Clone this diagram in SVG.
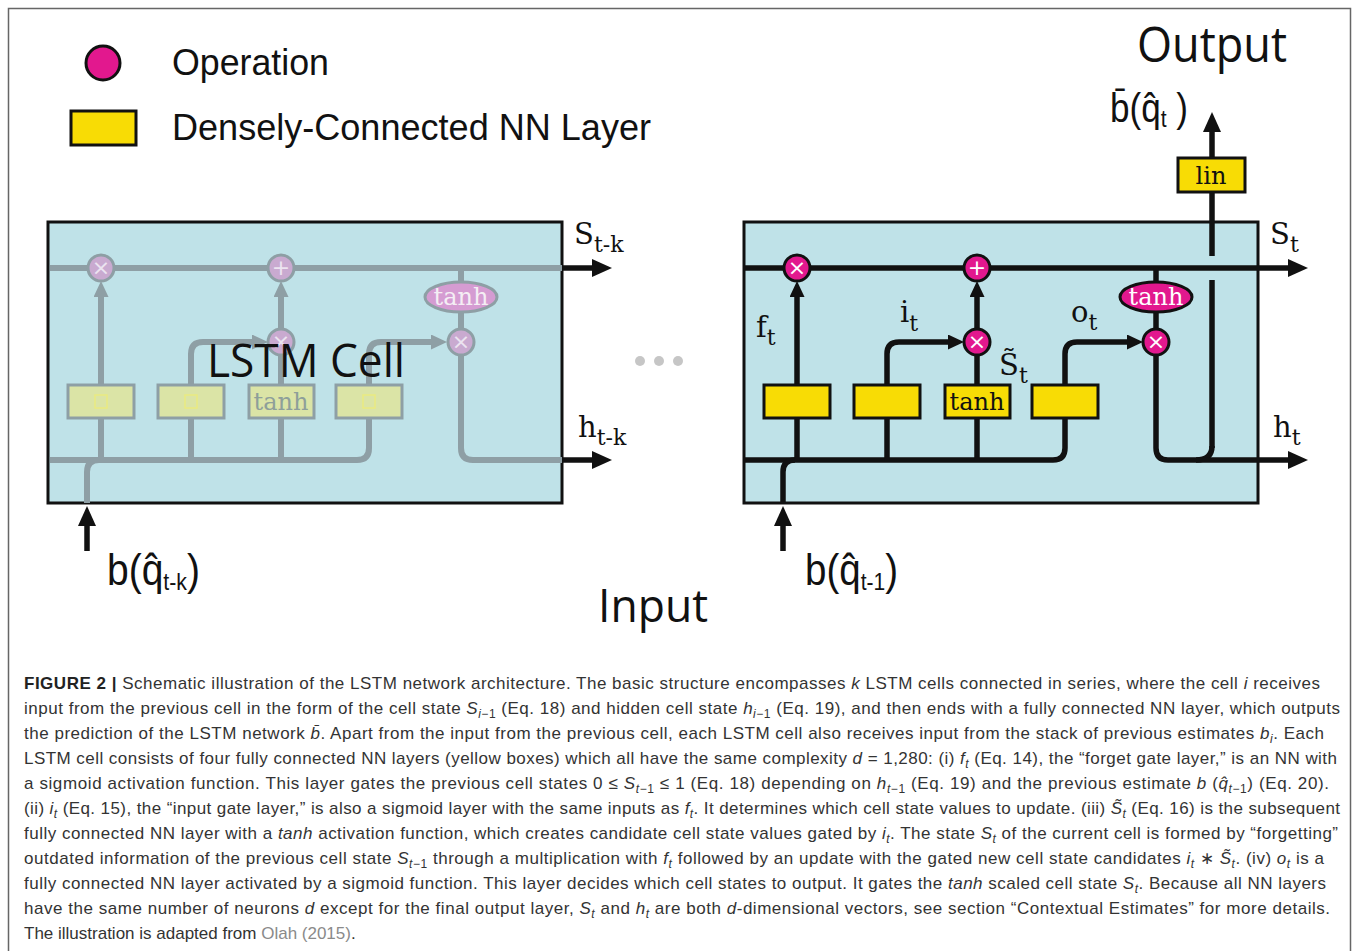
<svg xmlns="http://www.w3.org/2000/svg" width="1358" height="951" viewBox="0 0 1358 951">
<defs>
<style>
.cellbg{fill:#bfe2e8;stroke:#111;stroke-width:3}
.dk{fill:none;stroke:#111;stroke-width:5.5;stroke-linejoin:round}
.gy{fill:none;stroke:#8e9fa5;stroke-width:6;stroke-linejoin:round}
.op{fill:#e2188e;stroke:#111;stroke-width:3}
.opf{fill:#c9aad0;stroke:#8e9fa5;stroke-width:3}
.nn{fill:#f8dc05;stroke:#111;stroke-width:3}
.nnf{fill:#dbe4a6;stroke:#8e9fa5;stroke-width:3}
.sym{font-family:"DejaVu Sans",sans-serif;font-size:22px;fill:#fff;text-anchor:middle}
.symf{font-family:"DejaVu Sans",sans-serif;font-size:22px;fill:#ece4f0;text-anchor:middle}
.ser{font-family:"DejaVu Serif","Liberation Serif",serif;font-size:29px;fill:#111}
.lay{font-family:"DejaVu Serif","Liberation Serif",serif;font-size:24px;text-anchor:middle}
.big{font-family:"Open Sans","Noto Sans",sans-serif;fill:#111}
.leg{font-family:"Liberation Sans",Arial,sans-serif;font-size:36px;fill:#111}
.bq{font-family:"Liberation Sans",Arial,sans-serif;fill:#111}
.cap{font-family:"Liberation Sans",Arial,sans-serif;font-size:17px;fill:#333}
.sb{font-size:12px;baseline-shift:-4px}
</style>
<marker id="ah" viewBox="0 0 20 18" refX="4" refY="9" markerWidth="20" markerHeight="18" markerUnits="userSpaceOnUse" orient="auto"><path d="M0,0 L20,9 L0,18 z" fill="#111"/></marker>
<marker id="ahs" viewBox="0 0 16 15" refX="3" refY="7.5" markerWidth="16" markerHeight="15" markerUnits="userSpaceOnUse" orient="auto"><path d="M0,0 L16,7.5 L0,15 z" fill="#111"/></marker>
<marker id="ahg" viewBox="0 0 16 15" refX="3" refY="7.5" markerWidth="16" markerHeight="15" markerUnits="userSpaceOnUse" orient="auto"><path d="M0,0 L16,7.5 L0,15 z" fill="#8e9fa5"/></marker>
</defs>
<rect x="0" y="0" width="1358" height="951" fill="#fff"/>
<rect x="8.5" y="8.5" width="1342" height="960" fill="none" stroke="#666" stroke-width="1.5"/>

<!-- legend -->
<g id="legend">
<circle class="op" cx="103" cy="63" r="17"/>
<text class="leg" x="172" y="75" textLength="157" lengthAdjust="spacingAndGlyphs">Operation</text>
<rect class="nn" x="71" y="111" width="65" height="34"/>
<text class="leg" x="172" y="140" textLength="479" lengthAdjust="spacingAndGlyphs">Densely-Connected NN Layer</text>
</g>

<!-- cell backgrounds -->
<g id="cell-left">
<rect class="cellbg" x="48" y="222" width="514" height="281"/>
</g>
<g id="cell-right">
<rect class="cellbg" x="744" y="222" width="514" height="281"/>
</g>

<g id="connectors">
<!-- left (faded) cell -->
<path class="gy" d="M50 268 H562"/>
<path class="gy" d="M50 460 H357 Q369 460 369 448 V418"/>
<path class="gy" d="M87 503 V472 Q87 460 99 460"/>
<path class="gy" d="M101 460 V418"/>
<path class="gy" d="M101 385 V294" marker-end="url(#ahg)"/>
<path class="gy" d="M191 460 V418"/>
<path class="gy" d="M191 385 V354 Q191 342 203 342 H255" marker-end="url(#ahg)"/>
<path class="gy" d="M281 460 V418"/>
<path class="gy" d="M281 385 V355"/>
<path class="gy" d="M281 329 V294" marker-end="url(#ahg)"/>
<path class="gy" d="M369 385 V354 Q369 342 381 342 H434" marker-end="url(#ahg)"/>
<path class="gy" d="M461 268 V282"/>
<path class="gy" d="M461 312 V329"/>
<path class="gy" d="M461 355 V448 Q461 460 473 460 H562"/>
<path class="dk" d="M562 268 H596" marker-end="url(#ah)"/>
<path class="dk" d="M562 460 H596" marker-end="url(#ah)"/>
<path class="dk" d="M87 551 V522" marker-end="url(#ah)"/>
<!-- right cell -->
<path class="dk" d="M1212 448 V280"/>
<path class="dk" d="M1212 256 V128" marker-end="url(#ah)"/>
<path class="dk" d="M1196 460 Q1212 460 1212 446"/>
<path class="dk" d="M745 268 H1292" marker-end="url(#ah)"/>
<path class="dk" d="M745 460 H1053 Q1065 460 1065 448 V418"/>
<path class="dk" d="M783 503 V472 Q783 460 795 460"/>
<path class="dk" d="M797 460 V418"/>
<path class="dk" d="M797 385 V294" marker-end="url(#ahs)"/>
<path class="dk" d="M887 460 V418"/>
<path class="dk" d="M887 385 V354 Q887 342 899 342 H951" marker-end="url(#ahs)"/>
<path class="dk" d="M977 460 V418"/>
<path class="dk" d="M977 385 V355"/>
<path class="dk" d="M977 329 V294" marker-end="url(#ahs)"/>
<path class="dk" d="M1065 385 V354 Q1065 342 1077 342 H1130" marker-end="url(#ahs)"/>
<path class="dk" d="M1156 268 V282"/>
<path class="dk" d="M1156 312 V329"/>
<path class="dk" d="M1156 355 V448 Q1156 460 1168 460 H1292" marker-end="url(#ah)"/>
<path class="dk" d="M783 551 V522" marker-end="url(#ah)"/>
</g>

<!-- left cell nodes -->
<g id="l-mul-f"><circle class="opf" cx="101" cy="268" r="13"/><text class="symf" x="101" y="275">×</text></g>
<g id="l-add"><circle class="opf" cx="281" cy="268" r="13"/><text class="symf" x="281" y="275">+</text></g>
<g id="l-mul-i"><circle class="opf" cx="281" cy="342" r="13"/><text class="symf" x="281" y="349">×</text></g>
<g id="l-mul-o"><circle class="opf" cx="461" cy="342" r="13"/><text class="symf" x="461" y="349">×</text></g>
<g id="l-tanh-op"><ellipse cx="461" cy="297" rx="36" ry="15" fill="#d59cd2" stroke="#8e9fa5" stroke-width="3"/><text class="lay" x="461" y="305" fill="#f4eef4">tanh</text></g>
<g id="l-nn-f"><rect class="nnf" x="68" y="385" width="66" height="33"/><rect x="95" y="395" width="12" height="13" fill="none" stroke="#eaea80" stroke-width="1.5"/></g>
<g id="l-nn-i"><rect class="nnf" x="158" y="385" width="66" height="33"/><rect x="185" y="395" width="12" height="13" fill="none" stroke="#eaea80" stroke-width="1.5"/></g>
<g id="l-nn-tanh"><rect class="nnf" x="249" y="385" width="65" height="33"/><text class="lay" x="281" y="410" fill="#8e9f9a">tanh</text></g>
<g id="l-nn-o"><rect class="nnf" x="336" y="385" width="66" height="33"/><rect x="363" y="395" width="12" height="13" fill="none" stroke="#eaea80" stroke-width="1.5"/></g>
<g id="l-label"><text class="big" x="207" y="377" font-size="46" textLength="198" lengthAdjust="spacingAndGlyphs">LSTM Cell</text></g>

<!-- right cell nodes -->
<g id="r-mul-f"><circle class="op" cx="797" cy="268" r="13"/><text class="sym" x="797" y="275">×</text></g>
<g id="r-add"><circle class="op" cx="977" cy="268" r="13"/><text class="sym" x="977" y="275">+</text></g>
<g id="r-mul-i"><circle class="op" cx="977" cy="342" r="13"/><text class="sym" x="977" y="349">×</text></g>
<g id="r-mul-o"><circle class="op" cx="1156" cy="342" r="13"/><text class="sym" x="1156" y="349">×</text></g>
<g id="r-tanh-op"><ellipse class="op" cx="1156" cy="297" rx="36" ry="15"/><text class="lay" x="1156" y="305" fill="#fff">tanh</text></g>
<g id="r-nn-f"><rect class="nn" x="764" y="385" width="66" height="33"/></g>
<g id="r-nn-i"><rect class="nn" x="854" y="385" width="66" height="33"/></g>
<g id="r-nn-tanh"><rect class="nn" x="945" y="385" width="65" height="33"/><text class="lay" x="977" y="410" fill="#111">tanh</text></g>
<g id="r-nn-o"><rect class="nn" x="1032" y="385" width="66" height="33"/></g>
<g id="r-nn-lin"><rect class="nn" x="1178" y="158" width="67" height="34"/><text class="lay" x="1211" y="184" fill="#111">lin</text></g>

<!-- labels -->
<g id="labels">
<text class="ser" x="574" y="244">S<tspan font-size="22" dy="8">t-k</tspan></text>
<text class="ser" x="578" y="437">h<tspan font-size="22" dy="8">t-k</tspan></text>
<text class="ser" x="1270" y="244">S<tspan font-size="22" dy="8">t</tspan></text>
<text class="ser" x="1273" y="437">h<tspan font-size="22" dy="8">t</tspan></text>
<text class="ser" x="756" y="337">f<tspan font-size="22" dy="8">t</tspan></text>
<text class="ser" x="900" y="322">i<tspan font-size="22" dy="9">t</tspan></text>
<text class="ser" x="1071" y="322">o<tspan font-size="22" dy="8">t</tspan></text>
<text class="ser" x="999" y="375">S̃<tspan font-size="22" dy="8">t</tspan></text>
<text class="big" x="1137" y="62" font-size="50" textLength="150" lengthAdjust="spacingAndGlyphs">Output</text>
<text class="big" x="598" y="622" font-size="45" textLength="110" lengthAdjust="spacingAndGlyphs">Input</text>
<text class="bq" x="1110" y="122" font-size="40" textLength="78" lengthAdjust="spacingAndGlyphs">b̄(q̂<tspan font-size="24" dy="5">t</tspan><tspan dy="-5"> )</tspan></text>
<text class="bq" x="107" y="585" font-size="44" textLength="93" lengthAdjust="spacingAndGlyphs">b(q̂<tspan font-size="24" dy="5">t-k</tspan><tspan dy="-5">)</tspan></text>
<text class="bq" x="805" y="585" font-size="44" textLength="93" lengthAdjust="spacingAndGlyphs">b(q̂<tspan font-size="24" dy="5">t-1</tspan><tspan dy="-5">)</tspan></text>
<circle cx="640" cy="361" r="5" fill="#c6c6c6"/>
<circle cx="659" cy="361" r="5" fill="#c6c6c6"/>
<circle cx="678" cy="361" r="5" fill="#c6c6c6"/>
</g>

<!-- caption -->
<g id="caption">
<text class="cap" x="24" y="689" textLength="1296" lengthAdjust="spacing"><tspan font-weight="bold" fill="#222">FIGURE 2 |</tspan> Schematic illustration of the LSTM network architecture. The basic structure encompasses <tspan font-style="italic">k</tspan> LSTM cells connected in series, where the cell <tspan font-style="italic">i</tspan> receives</text>
<text class="cap" x="24" y="714" textLength="1316" lengthAdjust="spacing">input from the previous cell in the form of the cell state <tspan font-style="italic">S</tspan><tspan class="sb"><tspan font-style="italic">i</tspan>−1</tspan> (Eq. 18) and hidden cell state <tspan font-style="italic">h</tspan><tspan class="sb"><tspan font-style="italic">i</tspan>−1</tspan> (Eq. 19), and then ends with a fully connected NN layer, which outputs</text>
<text class="cap" x="24" y="739" textLength="1300" lengthAdjust="spacing">the prediction of the LSTM network <tspan font-style="italic">b̄</tspan>. Apart from the input from the previous cell, each LSTM cell also receives input from the stack of previous estimates <tspan font-style="italic">b</tspan><tspan class="sb" font-style="italic">i</tspan>. Each</text>
<text class="cap" x="24" y="764" textLength="1313" lengthAdjust="spacing">LSTM cell consists of four fully connected NN layers (yellow boxes) which all have the same complexity <tspan font-style="italic">d</tspan> = 1,280: (i) <tspan font-style="italic">f</tspan><tspan class="sb" font-style="italic">t</tspan> (Eq. 14), the “forget gate layer,” is an NN with</text>
<text class="cap" x="24" y="789" textLength="1305" lengthAdjust="spacing">a sigmoid activation function. This layer gates the previous cell states 0 ≤ <tspan font-style="italic">S</tspan><tspan class="sb"><tspan font-style="italic">t</tspan>−1</tspan> ≤ 1 (Eq. 18) depending on <tspan font-style="italic">h</tspan><tspan class="sb"><tspan font-style="italic">t</tspan>−1</tspan> (Eq. 19) and the previous estimate <tspan font-style="italic">b</tspan> (<tspan font-style="italic">q̂</tspan><tspan class="sb"><tspan font-style="italic">t</tspan>−1</tspan>) (Eq. 20).</text>
<text class="cap" x="24" y="814" textLength="1316" lengthAdjust="spacing">(ii) <tspan font-style="italic">i</tspan><tspan class="sb" font-style="italic">t</tspan> (Eq. 15), the “input gate layer,” is also a sigmoid layer with the same inputs as <tspan font-style="italic">f</tspan><tspan class="sb" font-style="italic">t</tspan>. It determines which cell state values to update. (iii) <tspan font-style="italic">S̃</tspan><tspan class="sb" font-style="italic">t</tspan> (Eq. 16) is the subsequent</text>
<text class="cap" x="24" y="839" textLength="1314" lengthAdjust="spacing">fully connected NN layer with a <tspan font-style="italic">tanh</tspan> activation function, which creates candidate cell state values gated by <tspan font-style="italic">i</tspan><tspan class="sb" font-style="italic">t</tspan>. The state <tspan font-style="italic">S</tspan><tspan class="sb" font-style="italic">t</tspan> of the current cell is formed by “forgetting”</text>
<text class="cap" x="24" y="864" textLength="1300" lengthAdjust="spacing">outdated information of the previous cell state <tspan font-style="italic">S</tspan><tspan class="sb"><tspan font-style="italic">t</tspan>−1</tspan> through a multiplication with <tspan font-style="italic">f</tspan><tspan class="sb" font-style="italic">t</tspan> followed by an update with the gated new cell state candidates <tspan font-style="italic">i</tspan><tspan class="sb" font-style="italic">t</tspan> ∗ <tspan font-style="italic">S̃</tspan><tspan class="sb" font-style="italic">t</tspan>. (iv) <tspan font-style="italic">o</tspan><tspan class="sb" font-style="italic">t</tspan> is a</text>
<text class="cap" x="24" y="889" textLength="1302" lengthAdjust="spacing">fully connected NN layer activated by a sigmoid function. This layer decides which cell states to output. It gates the <tspan font-style="italic">tanh</tspan> scaled cell state <tspan font-style="italic">S</tspan><tspan class="sb" font-style="italic">t</tspan>. Because all NN layers</text>
<text class="cap" x="24" y="914" textLength="1306" lengthAdjust="spacing">have the same number of neurons <tspan font-style="italic">d</tspan> except for the final output layer, <tspan font-style="italic">S</tspan><tspan class="sb" font-style="italic">t</tspan> and <tspan font-style="italic">h</tspan><tspan class="sb" font-style="italic">t</tspan> are both <tspan font-style="italic">d</tspan>-dimensional vectors, see section “Contextual Estimates” for more details.</text>
<text class="cap" x="24" y="939">The illustration is adapted from <tspan fill="#8a8a8a">Olah (2015)</tspan>.</text>
</g>
</svg>
